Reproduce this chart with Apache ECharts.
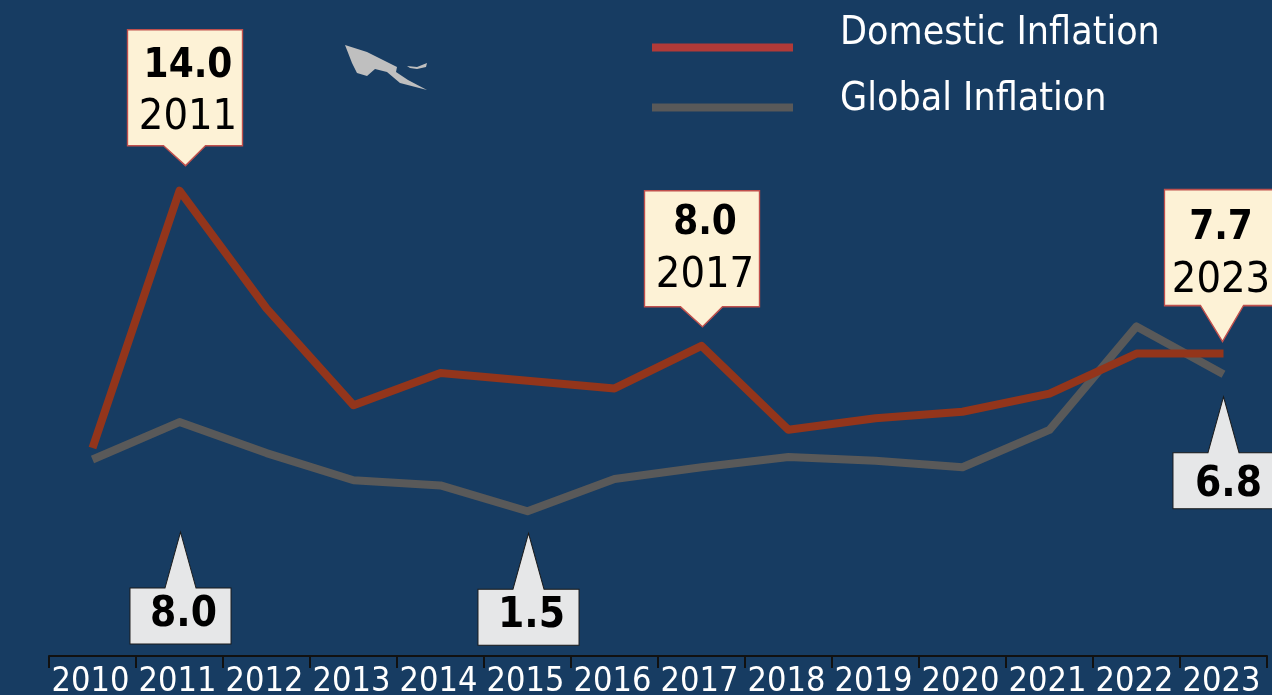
<!DOCTYPE html>
<html>
<head>
<meta charset="utf-8">
<style>
  html,body{margin:0;padding:0;background:#173c62;overflow:hidden}
  #chart{width:1272px;height:695px}
</style>
<script src="https://cdn.jsdelivr.net/npm/echarts@6/dist/echarts.min.js"></script>
</head>
<body>
<div id="chart"></div>
<script>
const years=['2010','2011','2012','2013','2014','2015','2016','2017','2018','2019','2020','2021','2022','2023']
const domestic=[4.05,14.0,9.45,5.7,6.95,6.65,6.35,8.0,4.75,5.2,5.45,6.15,7.7,7.7]
const global_=[3.6,5.05,3.85,2.8,2.6,1.6,2.85,3.3,3.7,3.55,3.3,4.75,8.75,6.9]
const domesticCallouts=[['2011','14.0'],['2017','8.0'],['2023','7.7']]
const globalCallouts=[['2011','8.0'],['2015','1.5'],['2023','6.8']]

const font='"DejaVu Sans Condensed","DejaVu Sans",sans-serif'

// callout shapes, tip at the bottom for domestic and at the top for global
const creamShort='path://M0 0H115V116H78L58 136L36 116H0Z'
const creamLong='path://M0 0H115V116H79L58 152L36 116H0Z'
const greyTip='path://M50.5 0L66 56H101V112H0V56H35Z'

// legend swatches sit lower than the middle of their text
const swatchDomestic='path://M0 0L0 0M0 28H141V36H0Z'
const swatchGlobal='path://M0 0L0 0M0 16H141V24H0Z'

const creamPlace={
  '2011':{symbol:creamShort,size:[115,136],offset:[5.5,-93],label:[3,-5.5]},
  '2017':{symbol:creamShort,size:[115,136],offset:[0.5,-87],label:[3,-9]},
  '2023':{symbol:creamLong,size:[115,152],offset:[-1.5,-88],label:[-1,-10.5]},
}
const greyPlace={
  '2011':{offset:[1,166],label:[3,27]},
  '2015':{offset:[1,78],label:[3,27]},
  '2023':{offset:[0,78.5],label:[5,32]},
}

let chartInstance=echarts.init(document.getElementById('chart'))

let option={
  backgroundColor:'#173c62',
  animation:false,
  legend:[
    {
      left:652,top:14,orient:'horizontal',
      data:[{name:'Domestic Inflation',icon:swatchDomestic,itemStyle:{color:'#b13a38',borderWidth:0}}],
      itemWidth:141,itemHeight:36,padding:0,selectedMode:false,
      textStyle:{color:'#ffffff',fontFamily:font,fontSize:39,padding:[0,0,0,42]}
    },
    {
      left:652,top:80,orient:'horizontal',
      data:[{name:'Global Inflation',icon:swatchGlobal,itemStyle:{color:'#595959',borderWidth:0}}],
      itemWidth:141,itemHeight:24,padding:0,selectedMode:false,
      textStyle:{color:'#ffffff',fontFamily:font,fontSize:39,padding:[0,0,0,42]}
    }
  ],
  grid:{left:49,right:5,top:139,height:517,outerBoundsMode:'none'},
  xAxis:{
    type:'category',
    data:years,
    boundaryGap:true,
    axisLine:{show:true,onZero:false,lineStyle:{color:'#111111',width:2}},
    axisTick:{show:true,length:12,alignWithLabel:false,lineStyle:{color:'#111111',width:2}},
    axisLabel:{interval:0,hideOverlap:false,color:'#ffffff',fontFamily:font,fontSize:34,margin:9,padding:[0,4,0,0]}
  },
  yAxis:{type:'value',min:-4,max:16,show:false,splitLine:{show:false}},
  series:[
    {
      name:'Domestic Inflation',
      type:'line',
      data:domestic,
      symbol:'none',
      z:3,
      lineStyle:{color:'#93351b',width:8,join:'round'},
      itemStyle:{color:'#93351b'},
      markPoint:{
        silent:true,
        z:5,
        data:domesticCallouts.map(([year,text])=>{
          let p=creamPlace[year]
          return {
            coord:[year,domestic[years.indexOf(year)]],
            symbol:p.symbol,
            symbolSize:p.size,
            symbolOffset:p.offset,
            itemStyle:{color:'#fdf2d6',borderColor:'#c0504d',borderWidth:1.5},
            label:{
              show:true,position:'inside',offset:p.label,
              formatter:'{v|'+text+'}\n{y|'+year+'}',
              rich:{
                v:{fontFamily:font,fontWeight:'bold',fontSize:40,color:'#000',lineHeight:52,align:'center'},
                y:{fontFamily:font,fontSize:43,color:'#000',lineHeight:52,align:'center'}
              }
            }
          }
        })
      }
    },
    {
      name:'Global Inflation',
      type:'line',
      data:global_,
      symbol:'none',
      z:2,
      lineStyle:{color:'#595959',width:8,join:'round'},
      itemStyle:{color:'#595959'},
      markPoint:{
        silent:true,
        z:5,
        data:globalCallouts.map(([year,text])=>{
          let p=greyPlace[year]
          return {
            coord:[year,global_[years.indexOf(year)]],
            symbol:greyTip,
            symbolSize:[101,112],
            symbolOffset:p.offset,
            itemStyle:{color:'#e6e7e8',borderColor:'#1a1a1a',borderWidth:1},
            label:{
              show:true,position:'inside',offset:p.label,
              formatter:text,
              fontFamily:font,fontWeight:'bold',fontSize:42,color:'#000'
            }
          }
        })
      }
    }
  ],
  graphic:[
    // small grey silhouette above the chart
    {type:'polygon',silent:true,style:{fill:'#bfbfbf'},shape:{points:[[345,45],[367,52],[397,67],[396,72],[408,80],[427,90],[400,83],[387,72],[375,69],[367,76],[357,73],[352,63]]}},
    {type:'polygon',silent:true,style:{fill:'#bfbfbf'},shape:{points:[[407,66],[417,67],[427,63],[426,67],[417,69],[410,68]]}}
  ]
}
chartInstance.setOption(option)
</script>
</body>
</html>
